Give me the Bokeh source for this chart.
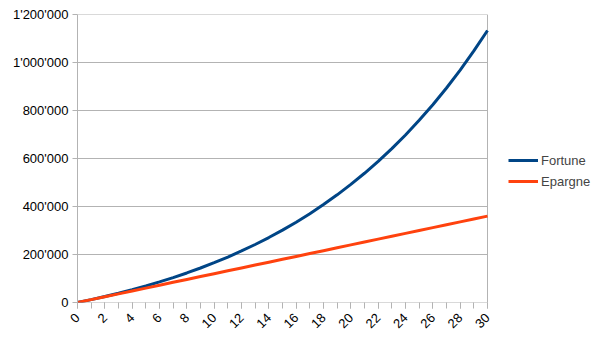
import math
from bokeh.plotting import figure
from bokeh.models import FixedTicker, Range1d, CustomJSTickFormatter, Legend, LegendItem
from bokeh.embed import file_html
from bokeh.resources import INLINE

years = list(range(0, 31))
fortune = [0, 12000, 24800, 38600, 53300, 69000, 85800, 103900, 123100, 143700,
           165800, 189400, 214700, 241700, 270600, 301500, 334700, 370100, 408000,
           448600, 492000, 538400, 588100, 641200, 698100, 759000, 824100, 893800,
           968400, 1048200, 1133500]
epargne = [12000 * y for y in years]
x_labels = list(range(0, 31, 2))
y_ticks = [0, 200000, 400000, 600000, 800000, 1000000, 1200000]

GRAY = "#b3b3b3"
FONT = "Liberation Sans"

X_MIN, X_MAX = years[0], years[-1]
Y_MIN, Y_MAX = y_ticks[0], y_ticks[-1]

# frame spans the whole width to the right so that the legend can sit beside the data area
x_end = X_MAX + (605 - 487) * (X_MAX - X_MIN) / 410.0

p = figure(width=605, height=340, output_backend="svg", toolbar_location=None,
           x_range=Range1d(X_MIN, x_end), y_range=Range1d(Y_MIN, Y_MAX),
           min_border_left=77, min_border_right=0, min_border_top=14, min_border_bottom=38)
p.background_fill_color = "white"
p.border_fill_color = "white"
p.outline_line_color = None

p.xgrid.visible = False
p.ygrid.visible = False

# horizontal grid lines and right border limited to the data area
p.segment(x0=[X_MIN] * len(y_ticks), x1=[X_MAX] * len(y_ticks), y0=y_ticks, y1=y_ticks,
          line_color=GRAY, line_width=1)
p.segment(x0=[X_MAX], x1=[X_MAX], y0=[Y_MIN], y1=[Y_MAX], line_color=GRAY, line_width=1)

r1 = p.line(years, fortune, line_color="#004586", line_width=3)
r2 = p.line(years, epargne, line_color="#ff420e", line_width=3)

p.xaxis.ticker = FixedTicker(ticks=x_labels, minor_ticks=years)
p.yaxis.ticker = FixedTicker(ticks=y_ticks, minor_ticks=[])
p.yaxis.formatter = CustomJSTickFormatter(code="return tick.toFixed(0).replace(/\\B(?=(\\d{3})+(?!\\d))/g, \"'\");")

for ax in (p.xaxis[0], p.yaxis[0]):
    ax.axis_line_color = GRAY
    ax.major_tick_line_color = GRAY
    ax.minor_tick_line_color = GRAY
    ax.major_tick_in = 0
    ax.minor_tick_in = 0
    ax.major_label_text_font = FONT
    ax.major_label_text_font_size = "13px"
    ax.major_label_text_color = "#000000"

p.xaxis.axis_line_color = None
p.xaxis.major_tick_out = 6
p.xaxis.minor_tick_out = 6
p.xaxis.major_label_orientation = math.pi / 4
p.xaxis.major_label_standoff = 7
p.yaxis.major_tick_out = 5
p.yaxis.minor_tick_out = 0
p.yaxis.major_label_standoff = 4

legend = Legend(items=[LegendItem(label="Fortune", renderers=[r1]),
                       LegendItem(label="Epargne", renderers=[r2])],
                location=(431, 112))
legend.border_line_color = None
legend.background_fill_alpha = 0
legend.label_text_font = FONT
legend.label_text_font_size = "13px"
legend.glyph_width = 30
legend.glyph_height = 18
legend.label_standoff = 3
legend.spacing = 3
legend.padding = 0
legend.margin = 0
p.add_layout(legend, "center")

open("out.html", "w").write(file_html(p, INLINE))
